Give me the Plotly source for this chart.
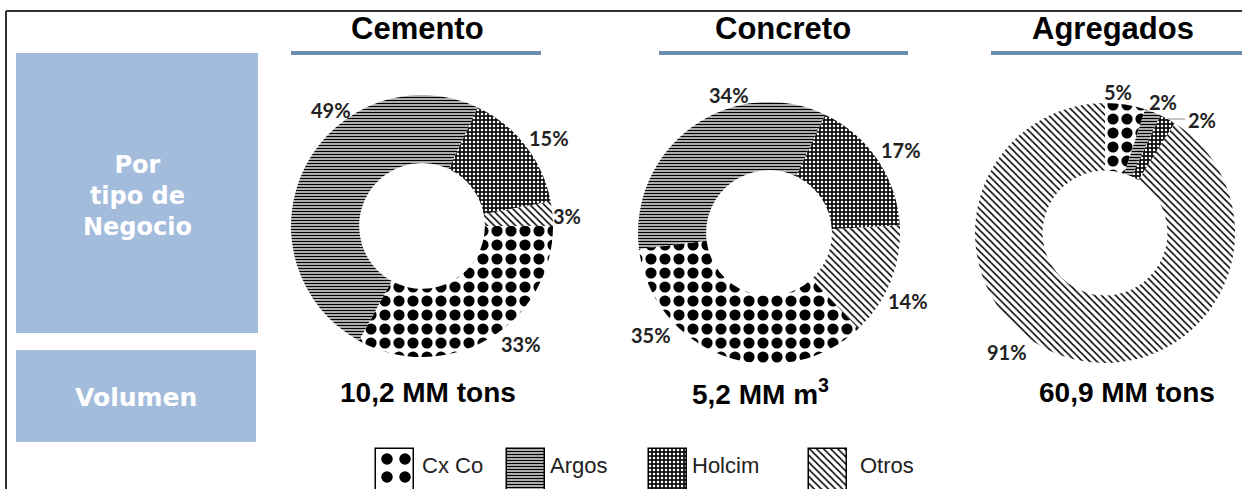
import plotly.graph_objects as go

# ---------------- data ----------------
companies = ["Cx Co", "Argos", "Holcim", "Otros"]
cemento = [33, 49, 15, 3]
concreto = [35, 34, 17, 14]
agregados = [5, 2, 2, 91]
segments = ["Cemento", "Concreto", "Agregados"]
volumes = ["10,2 MM tons", "5,2 MM m<sup>3</sup>", "60,9 MM tons"]
row_labels = ["Por<br>tipo de<br>Negocio", "Volumen"]

# ---------------- styles ----------------
W, H = 1242, 489
pat_shape = [".", "-", ".", "\\"]
pat_fg = ["black", "black", "white", "black"]
pat_bg = ["white", "white", "#111111", "white"]
pat_size = [14, 3, 4, 5]
pat_sol = [0.5, 0.55, 0.3, 0.3]

# pie geometry (pixels): center x, center y, radius, start rotation, label anchor points
pies = [
    dict(vals=cemento, cx=422, cy=226, r=131, rot=90,
         lab=[(521, 344), (331, 110), (549, 138), (567, 216)]),
    dict(vals=concreto, cx=769, cy=233, r=131, rot=137,
         lab=[(651, 335), (729, 95), (901, 150), (908, 301)]),
    dict(vals=agregados, cx=1105, cy=233, r=130, rot=0,
         lab=[(1118, 92), (1163, 102), (1202, 120), (1007, 352)]),
]

fig = go.Figure()
annotations = []
shapes = []

for p in pies:
    fig.add_trace(go.Pie(
        labels=companies, values=p["vals"], sort=False, direction="clockwise",
        rotation=p["rot"], hole=0.48,
        domain=dict(x=[(p["cx"] - p["r"]) / W, (p["cx"] + p["r"]) / W],
                    y=[1 - (p["cy"] + p["r"]) / H, 1 - (p["cy"] - p["r"]) / H]),
        marker=dict(colors=pat_bg, line=dict(width=0),
                    pattern=dict(shape=pat_shape, fgcolor=pat_fg, bgcolor=pat_bg,
                                 size=pat_size, solidity=pat_sol, fillmode="replace",
                                 fgopacity=1)),
        textinfo="none", showlegend=False, hoverinfo="label+percent",
    ))
    for v, (lx, ly) in zip(p["vals"], p["lab"]):
        annotations.append(dict(xref="x", yref="y", x=lx, y=ly, text=f"<b>{v}%</b>",
                                showarrow=False,
                                font=dict(family="Lato", size=20, color="#222222")))

# leader line for the small Holcim slice in Agregados
shapes.append(dict(type="line", xref="x", yref="y", x0=1168, y0=119, x1=1185, y1=119,
                   line=dict(color="#888888", width=1)))

# legend swatches drawn as patterned bars on a pixel axis (one trace per company)
leg_x = [395, 526, 668, 828]
leg_txt_x = [420, 548, 690, 858]
leg_size = [18, 3, 4, 5]
leg_sol = [0.32, 0.55, 0.3, 0.3]
for i, name in enumerate(companies):
    fig.add_trace(go.Bar(
        x=[leg_x[i]], y=[46], base=[449], width=38, name=name,
        marker=dict(color=pat_bg[i], opacity=1, line=dict(color="black", width=1.5),
                    pattern=dict(shape=pat_shape[i], fgcolor=pat_fg[i], bgcolor=pat_bg[i],
                                 size=leg_size[i], solidity=leg_sol[i],
                                 fillmode="replace", fgopacity=1)),
        showlegend=False, hoverinfo="skip", xaxis="x", yaxis="y",
    ))

# frame
shapes.append(dict(type="line", xref="x", yref="y", x0=6, y0=11, x1=W, y1=11,
                   line=dict(color="#333333", width=2)))
shapes.append(dict(type="line", xref="x", yref="y", x0=6, y0=11, x1=6, y1=H,
                   line=dict(color="#333333", width=2)))

# left panels
panel_fill = "#A3BCDC"
shapes.append(dict(type="rect", xref="x", yref="y", x0=16, y0=53, x1=258, y1=333,
                   fillcolor=panel_fill, line=dict(width=0), layer="below"))
shapes.append(dict(type="rect", xref="x", yref="y", x0=16, y0=350, x1=256, y1=442,
                   fillcolor=panel_fill, line=dict(width=0), layer="below"))
annotations.append(dict(xref="x", yref="y", x=137, y=196, text="<b>" + row_labels[0] + "</b>",
                        showarrow=False, font=dict(family="DejaVu Sans", size=24, color="white"),
                        align="center"))
annotations.append(dict(xref="x", yref="y", x=136, y=397, text="<b>" + row_labels[1] + "</b>",
                        showarrow=False, font=dict(family="DejaVu Sans", size=25, color="white")))

# titles + underlines
title_x = [417, 783, 1113]
under = [(291, 541), (659, 908), (991, 1242)]
for t, tx, (u0, u1) in zip(segments, title_x, under):
    annotations.append(dict(xref="x", yref="y", x=tx, y=28, text="<b>" + t + "</b>",
                            showarrow=False,
                            font=dict(family="Liberation Sans", size=31, color="black")))
    shapes.append(dict(type="line", xref="x", yref="y", x0=u0, y0=53, x1=u1, y1=53,
                       line=dict(color="#6A8CAD", width=4)))

# volumes
vol_x = [428, 760, 1127]
for v, vx in zip(volumes, vol_x):
    annotations.append(dict(xref="x", yref="y", x=vx, y=392, text="<b>" + v + "</b>",
                            showarrow=False,
                            font=dict(family="Liberation Sans", size=28, color="black")))

# legend text
for name, lx in zip(companies, leg_txt_x):
    annotations.append(dict(xref="x", yref="y", x=lx, y=465, text=name, xanchor="left",
                            showarrow=False,
                            font=dict(family="Liberation Sans", size=22, color="#222222")))

fig.update_layout(
    width=W, height=H, margin=dict(l=0, r=0, t=0, b=0),
    paper_bgcolor="white", plot_bgcolor="rgba(0,0,0,0)",
    xaxis=dict(range=[0, W], visible=False, fixedrange=True, domain=[0, 1]),
    yaxis=dict(range=[H, 0], visible=False, fixedrange=True, domain=[0, 1]),
    shapes=shapes, annotations=annotations, showlegend=False, bargap=0, barmode="overlay",
)

fig.write_html("out.html")
